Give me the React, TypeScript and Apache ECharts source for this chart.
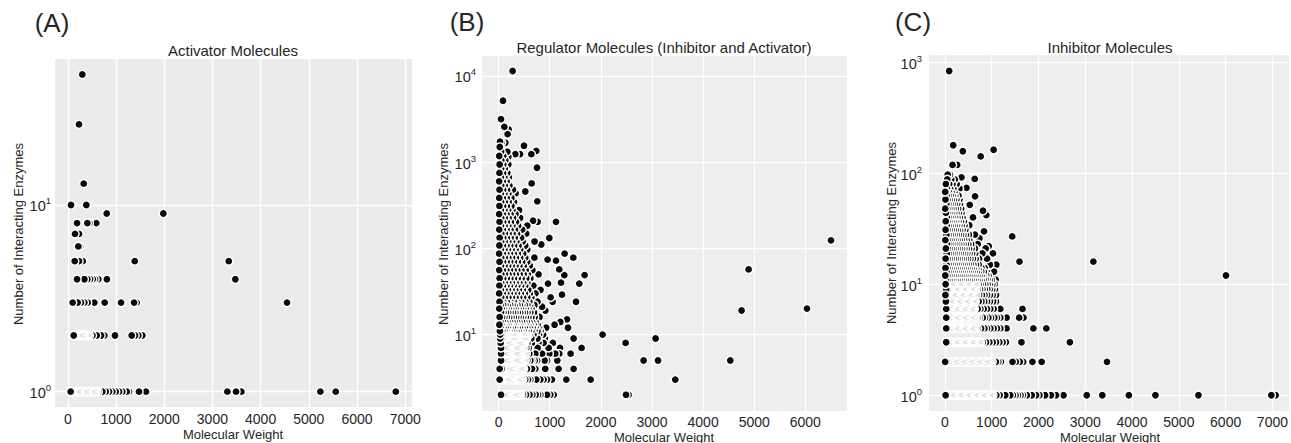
import React, { useEffect, useRef } from "react";
import * as echarts from "echarts";

const xTicks = [0, 1000, 2000, 3000, 4000, 5000, 6000, 7000];
const activatorYTicks = [1, 10];
const regulatorYTicks = [10, 100, 1000, 10000];
const inhibitorYTicks = [1, 10, 100, 1000];

const panelLetters = ["(A)", "(B)", "(C)"];
const panelTitles = [
  "Activator Molecules",
  "Regulator Molecules (Inhibitor and Activator)",
  "Inhibitor Molecules",
];
const xName = "Molecular Weight";
const yName = "Number of Interacting Enzymes";

// rows: [number of interacting enzymes, molecular weights]
const activatorRows: [number, number[]][] = [
  [1, [59, 80, 104, 128, 151, 176, 199, 224, 247, 271, 296, 319, 343, 366, 391, 414, 438, 462, 486, 509, 533, 557, 580, 603, 633, 716, 786, 855, 923, 994, 1062, 1131, 1222, 1270, 1477, 1622, 3310, 3490, 3600, 5240, 5559, 6804]],
  [2, [122, 143, 166, 190, 214, 237, 261, 284, 308, 331, 355, 379, 402, 426, 450, 510, 600, 690, 757, 979, 1325, 1394, 1463, 1546]],
  [3, [101, 205, 274, 343, 412, 550, 765, 1104, 1374, 1429, 4548]],
  [4, [191, 343, 405, 461, 516, 564, 633, 811, 3476]],
  [5, [143, 232, 309, 1388, 3339]],
  [6, [218, 253]],
  [7, [149, 232]],
  [8, [191, 405, 446, 591]],
  [9, [807, 1982]],
  [10, [66, 384]],
  [13, [330]],
  [27, [232]],
  [50, [301]],
];

const regulatorRows: [number, number[]][] = [
  [2, [47, 70, 91, 113, 134, 156, 177, 199, 220, 242, 263, 285, 306, 328, 349, 371, 392, 414, 435, 477, 536, 606, 659, 724, 771, 816, 947, 1011, 1076, 2492, 2542]],
  [3, [20, 42, 63, 85, 106, 128, 149, 171, 192, 214, 235, 257, 278, 300, 321, 343, 364, 386, 407, 429, 450, 472, 520, 575, 620, 737, 816, 880, 947, 1044, 1324, 1800, 3456]],
  [4, [20, 59, 81, 102, 124, 145, 167, 188, 210, 231, 253, 274, 296, 317, 339, 360, 382, 403, 425, 446, 468, 490, 555, 653, 718, 913, 1174, 1467]],
  [5, [47, 69, 90, 112, 133, 155, 176, 198, 219, 241, 262, 284, 305, 327, 348, 370, 391, 413, 434, 456, 477, 499, 520, 560, 620, 653, 705, 751, 900, 947, 1148, 2836, 3118, 4532]],
  [6, [47, 68, 90, 111, 133, 154, 176, 197, 219, 240, 262, 283, 305, 326, 348, 369, 391, 412, 434, 455, 477, 498, 520, 541, 600, 718, 849, 992, 1109, 1187, 1408]],
  [7, [47, 68, 90, 111, 133, 154, 176, 197, 219, 240, 262, 283, 305, 326, 348, 369, 391, 412, 434, 455, 477, 498, 540, 587, 763, 978, 1201, 1623]],
  [8, [40, 62, 83, 105, 126, 148, 169, 191, 212, 234, 255, 277, 298, 320, 341, 363, 384, 406, 427, 449, 470, 492, 513, 560, 650, 780, 880, 1060, 2484]],
  [9, [30, 52, 73, 95, 116, 138, 159, 181, 202, 224, 245, 267, 288, 310, 331, 353, 374, 396, 417, 439, 460, 482, 503, 525, 546, 640, 760, 905, 1467, 3071]],
  [10, [30, 52, 73, 95, 116, 138, 159, 181, 202, 224, 245, 267, 288, 310, 331, 353, 374, 396, 417, 439, 460, 482, 503, 525, 546, 568, 600, 680, 790, 870, 2034]],
  [11, [25, 70, 118, 160, 205, 250, 300, 345, 390, 440, 490, 540, 590, 640, 700, 760, 820]],
  [12, [40, 90, 135, 180, 228, 275, 320, 368, 415, 462, 510, 560, 612, 665, 720, 790, 930]],
  [13, [15, 60, 105, 150, 198, 240, 290, 335, 380, 425, 475, 522, 575, 630, 690, 760]],
  [14, [35, 82, 128, 172, 220, 268, 312, 360, 405, 455, 500, 548, 600, 655, 720]],
  [16, [20, 66, 112, 158, 205, 250, 296, 342, 388, 434, 480, 530, 582, 640, 705, 800]],
  [18, [45, 92, 140, 185, 232, 280, 325, 372, 420, 468, 515, 565, 620, 690]],
  [20, [12, 58, 104, 150, 196, 244, 290, 336, 384, 430, 478, 528, 580, 640]],
  [22, [38, 85, 130, 178, 224, 270, 318, 365, 412, 460, 508, 560, 615, 700]],
  [24, [18, 88, 156, 226, 296, 366, 440, 520, 600, 760]],
  [27, [50, 120, 190, 260, 330, 402, 478, 560, 640]],
  [30, [10, 78, 148, 218, 288, 358, 432, 512, 610, 720]],
  [33, [42, 112, 182, 252, 322, 395, 470, 580, 820]],
  [37, [15, 84, 152, 222, 292, 364, 440, 520, 680]],
  [40, [48, 118, 188, 258, 330, 405, 480, 560]],
  [45, [20, 88, 158, 228, 298, 372, 450, 540, 620]],
  [50, [52, 122, 192, 262, 335, 412, 490, 570]],
  [56, [12, 82, 150, 220, 292, 365, 445, 530, 660]],
  [63, [45, 115, 185, 255, 328, 405, 490, 610]],
  [70, [18, 86, 156, 226, 298, 375, 460, 560]],
  [78, [50, 120, 190, 262, 336, 420, 520, 700]],
  [87, [10, 80, 150, 220, 295, 375, 480]],
  [97, [42, 112, 182, 254, 330, 420, 560]],
  [108, [15, 84, 154, 226, 302, 390, 520]],
  [120, [48, 118, 188, 262, 345, 470]],
  [133, [20, 90, 160, 234, 315, 440]],
  [148, [52, 122, 194, 272, 360, 540]],
  [165, [12, 82, 154, 230, 320, 460]],
  [183, [45, 115, 188, 268, 380, 560]],
  [203, [18, 88, 160, 240, 340]],
  [225, [50, 120, 194, 282, 420]],
  [250, [10, 80, 152, 232, 330]],
  [278, [42, 112, 186, 270, 400]],
  [310, [16, 86, 160, 250]],
  [345, [48, 118, 196, 300]],
  [385, [12, 82, 156, 250]],
  [430, [42, 112, 190]],
  [480, [18, 88, 164, 280]],
  [535, [50, 120, 210]],
  [600, [10, 80, 156]],
  [670, [42, 112, 200]],
  [750, [16, 86, 170]],
  [840, [48, 120]],
  [940, [20, 90, 190]],
  [1050, [52, 130]],
  [1180, [12, 90]],
  [1320, [48, 170]],
  [1500, [22]],
  [1700, [60]],
];

// [molecular weight, number of interacting enzymes]
const regulatorOutliers: [number, number][] = [
  [274, 11430], [86, 5160], [47, 3160], [112, 2570], [196, 2400], [176, 2120], [27, 1725], [131, 1680],
  [497, 1550], [327, 1240], [419, 1240], [640, 1240], [737, 1355], [190, 1156], [751, 861], [646, 567],
  [333, 435], [522, 457], [757, 351], [673, 209], [763, 203], [1122, 203], [992, 132], [704, 120],
  [835, 111], [1291, 87], [1461, 78], [958, 74], [1122, 72], [1187, 57], [1682, 49], [1285, 49],
  [782, 50], [1578, 39], [966, 39], [1220, 40], [1240, 29], [1514, 24], [1017, 27], [1056, 24],
  [849, 21], [913, 19], [1095, 13], [1207, 14], [1338, 15], [1357, 12], [4753, 19], [4890, 57],
  [6032, 20], [6502, 124],
];

const inhibitorRows: [number, number[]][] = [
  [1, [15, 40, 65, 90, 114, 139, 163, 188, 212, 237, 261, 286, 310, 335, 360, 384, 409, 433, 458, 482, 507, 531, 556, 580, 605, 630, 654, 679, 703, 728, 752, 777, 801, 826, 851, 875, 900, 924, 949, 973, 998, 1027, 1098, 1169, 1290, 1396, 1452, 1509, 1559, 1615, 1665, 1749, 1856, 1948, 2019, 2140, 2267, 2374, 2535, 3032, 3364, 3931, 4499, 5419, 6977, 7069]],
  [2, [5, 30, 55, 79, 104, 128, 153, 177, 202, 226, 251, 276, 300, 325, 349, 374, 398, 423, 447, 472, 497, 521, 546, 570, 595, 619, 644, 668, 693, 718, 742, 767, 791, 816, 840, 865, 889, 914, 938, 963, 987, 1012, 1090, 1141, 1197, 1445, 1516, 1601, 1672, 1870, 2068, 3464]],
  [3, [28, 52, 77, 101, 126, 150, 175, 199, 224, 248, 273, 297, 322, 346, 371, 395, 420, 444, 469, 493, 518, 542, 567, 591, 616, 640, 665, 689, 714, 738, 763, 808, 878, 949, 1020, 1091, 1162, 1232, 1303, 1636, 2671]],
  [4, [28, 52, 77, 101, 126, 150, 175, 199, 224, 248, 273, 297, 322, 346, 371, 395, 420, 444, 469, 493, 518, 542, 567, 591, 616, 640, 665, 701, 772, 844, 899, 971, 1041, 1112, 1184, 1318, 1891, 2168]],
  [5, [28, 52, 77, 101, 126, 150, 175, 199, 224, 248, 273, 297, 322, 346, 371, 395, 420, 444, 469, 493, 518, 542, 567, 591, 616, 640, 665, 700, 737, 808, 857, 929, 985, 1056, 1112, 1184, 1318, 1587, 1679]],
  [6, [28, 52, 77, 101, 126, 150, 175, 199, 224, 248, 273, 297, 322, 346, 371, 395, 420, 444, 469, 493, 518, 542, 567, 591, 610, 630, 700, 757, 828, 899, 970, 1041, 1184, 1658]],
  [7, [20, 45, 69, 94, 118, 143, 167, 192, 216, 241, 265, 290, 314, 339, 363, 388, 412, 437, 461, 486, 510, 535, 559, 584, 608, 633, 650, 720, 780, 840, 900, 960, 1030, 1091]],
  [8, [10, 35, 59, 84, 108, 133, 157, 182, 206, 231, 255, 280, 304, 329, 353, 378, 402, 427, 451, 476, 500, 525, 549, 574, 598, 623, 647, 680, 730, 790, 845, 900, 960, 1020, 1091]],
  [9, [28, 52, 77, 101, 126, 150, 175, 199, 224, 248, 273, 297, 322, 346, 371, 395, 420, 444, 469, 493, 518, 542, 567, 591, 616, 640, 665, 700, 750, 800, 850, 905, 955, 1010, 1070]],
  [10, [15, 40, 64, 89, 113, 138, 162, 187, 211, 236, 260, 285, 309, 334, 358, 383, 407, 432, 456, 481, 505, 530, 554, 579, 603, 628, 652, 677, 720, 760, 810, 860, 910, 960, 1010, 1060]],
  [11, [20, 62, 105, 148, 190, 232, 275, 318, 360, 402, 445, 488, 530, 572, 615, 658, 700, 742, 785, 828, 870, 912, 955, 1000]],
  [12, [8, 50, 92, 135, 178, 220, 262, 305, 348, 390, 432, 475, 518, 560, 602, 645, 690, 735, 780, 830, 880, 930]],
  [13, [30, 72, 115, 158, 200, 242, 285, 328, 370, 412, 455, 498, 540, 585, 630, 678, 725, 775, 830, 890, 1050]],
  [14, [12, 55, 98, 140, 182, 225, 268, 310, 352, 395, 438, 480, 525, 570, 618, 668, 720, 780, 850]],
  [15, [35, 78, 120, 162, 205, 248, 290, 332, 375, 418, 462, 508, 555, 605, 660, 720, 960]],
  [17, [15, 58, 100, 142, 185, 228, 270, 312, 355, 400, 445, 492, 542, 596, 655, 730, 900]],
  [19, [40, 82, 125, 168, 210, 252, 295, 338, 382, 428, 475, 525, 580, 645, 800]],
  [21, [20, 62, 105, 148, 190, 232, 275, 320, 365, 412, 460, 512, 570, 640, 870]],
  [23, [45, 88, 130, 172, 215, 258, 302, 348, 395, 445, 500, 560, 700]],
  [25, [10, 52, 95, 138, 180, 222, 266, 312, 358, 408, 462, 520]],
  [28, [32, 75, 118, 160, 203, 248, 294, 342, 392, 448, 512, 640]],
  [31, [14, 56, 98, 140, 184, 228, 275, 324, 376, 435]],
  [34, [38, 80, 122, 165, 210, 256, 305, 358, 420, 520]],
  [37, [18, 60, 102, 146, 190, 236, 286, 340, 405]],
  [40, [42, 84, 127, 170, 216, 264, 316, 375, 600]],
  [44, [22, 64, 107, 150, 196, 244, 296, 355]],
  [48, [6, 48, 90, 134, 180, 228, 280, 345]],
  [53, [30, 72, 115, 160, 208, 260, 320]],
  [58, [12, 55, 98, 142, 190, 244, 310]],
  [63, [36, 78, 122, 168, 220, 290]],
  [68, [6, 79, 140, 200]],
  [73, [40, 110, 180, 312]],
  [80, [20, 90, 160, 250]],
  [88, [50, 134, 210]],
  [97, [60]],
];

const inhibitorOutliers: [number, number][] = [
  [92, 835], [177, 179], [383, 158], [765, 142], [1041, 163], [163, 119], [262, 119], [106, 97],
  [354, 92], [637, 89], [15, 68], [461, 74], [531, 52], [644, 62], [814, 46], [885, 42],
  [836, 30], [737, 26], [935, 22], [1027, 19], [1098, 15], [1084, 11], [1438, 27], [1594, 16],
  [3173, 16], [6007, 12],
];

function toPoints(rows: [number, number[]][], extra: [number, number][]) {
  const pts: [number, number][] = [];
  rows.forEach(([y, xs]) => xs.forEach((x) => pts.push([x, y])));
  extra.forEach((p) => pts.push(p));
  return pts.sort((a, b) => b[0] - a[0]);
}

const FONT = "'Liberation Sans', Arial, sans-serif";
const TXT = "#262626";

const panels = [
  { grid: { left: 55, top: 59, width: 357, height: 348 }, bg: "#ebebeb", xMin: -266, xMax: 7141, yMin: 0.828, yMax: 60.5, yTicks: activatorYTicks, data: toPoints(activatorRows, []), xMargin: 4, yMargin: 4 },
  { grid: { left: 482, top: 56, width: 365, height: 355 }, bg: "#eeeeee", xMin: -325, xMax: 6815, yMin: 1.297, yMax: 17060, yTicks: regulatorYTicks, data: toPoints(regulatorRows, regulatorOutliers), xMargin: 3, yMargin: 6 },
  { grid: { left: 929, top: 55, width: 362, height: 356 }, bg: "#eeeeee", xMin: -340, xMax: 7354, yMin: 0.721, yMax: 1164, yTicks: inhibitorYTicks, data: toPoints(inhibitorRows, inhibitorOutliers), xMargin: 3, yMargin: 7 },
];

const letterPos = [[52, 23], [467, 22], [913, 22]];
const titlePos = [[233, 50], [664, 47], [1110, 47]];
const yNamePos = [[18, 234], [443, 234], [891, 233]];
const xNamePos = [[233, 434], [664, 437], [1110, 437]];

export default function App() {
  const ref = useRef<HTMLDivElement>(null);
  useEffect(() => {
    if (!ref.current) return;
    const chart = echarts.init(ref.current, null, { renderer: "svg" });
    const graphics: any[] = [];
    panels.forEach((p, i) => {
      graphics.push({ type: "text", x: letterPos[i][0], y: letterPos[i][1], style: { text: panelLetters[i], font: `26px ${FONT}`, fill: TXT, textAlign: "center", textVerticalAlign: "middle" } });
      graphics.push({ type: "text", x: titlePos[i][0], y: titlePos[i][1], style: { text: panelTitles[i], font: `15px ${FONT}`, fill: TXT, textAlign: "center", textVerticalAlign: "middle" } });
      graphics.push({ type: "text", x: yNamePos[i][0], y: yNamePos[i][1], rotation: Math.PI / 2, style: { text: yName, font: `13px ${FONT}`, fill: TXT, textAlign: "center", textVerticalAlign: "middle" } });
      graphics.push({ type: "text", x: xNamePos[i][0], y: xNamePos[i][1], style: { text: xName, font: `13px ${FONT}`, fill: TXT, textAlign: "center", textVerticalAlign: "middle" } });
    });
    chart.setOption({
      animation: false,
      backgroundColor: "#ffffff",
      grid: panels.map((p) => ({ ...p.grid, show: true, backgroundColor: p.bg, borderWidth: 0, containLabel: false })),
      xAxis: panels.map((p, i) => ({
        type: "value",
        gridIndex: i,
        min: p.xMin,
        max: p.xMax,
        axisLine: { show: false },
        axisTick: { show: false, customValues: xTicks },
        splitLine: { show: true, lineStyle: { color: "#ffffff", width: 1.3 } },
        axisLabel: { customValues: xTicks, formatter: (v: number) => String(v), fontSize: 14, lineHeight: 15, fontFamily: FONT, color: TXT, margin: p.xMargin },
      })),
      yAxis: panels.map((p, i) => ({
        type: "log",
        logBase: 10,
        gridIndex: i,
        min: p.yMin,
        max: p.yMax,
        axisLine: { show: false },
        axisTick: { show: false, customValues: p.yTicks },
        splitLine: { show: true, lineStyle: { color: "#ffffff", width: 1.3 } },
        axisLabel: {
          customValues: p.yTicks,
          margin: p.yMargin,
          formatter: (v: number) => `{b|10}{s|${Math.round(Math.log10(v))}}`,
          rich: {
            b: { fontSize: 14.5, fontFamily: FONT, color: TXT, lineHeight: 18, verticalAlign: "bottom" },
            s: { fontSize: 9.5, fontFamily: FONT, color: TXT, lineHeight: 18, verticalAlign: "top" },
          },
        },
      })),
      series: panels.map((p, i) => ({
        type: "scatter",
        xAxisIndex: i,
        yAxisIndex: i,
        data: p.data,
        symbol: "circle",
        symbolSize: 8.2,
        silent: true,
        large: false,
        progressive: 0,
        itemStyle: { color: "#0a0a0a", borderColor: "#ffffff", borderWidth: 1.45, opacity: 1 },
      })),
      graphic: graphics,
    });
    return () => chart.dispose();
  }, []);
  return <div ref={ref} style={{ position: "fixed", left: 0, top: 0, width: 1291, height: 443 }} />;
}
